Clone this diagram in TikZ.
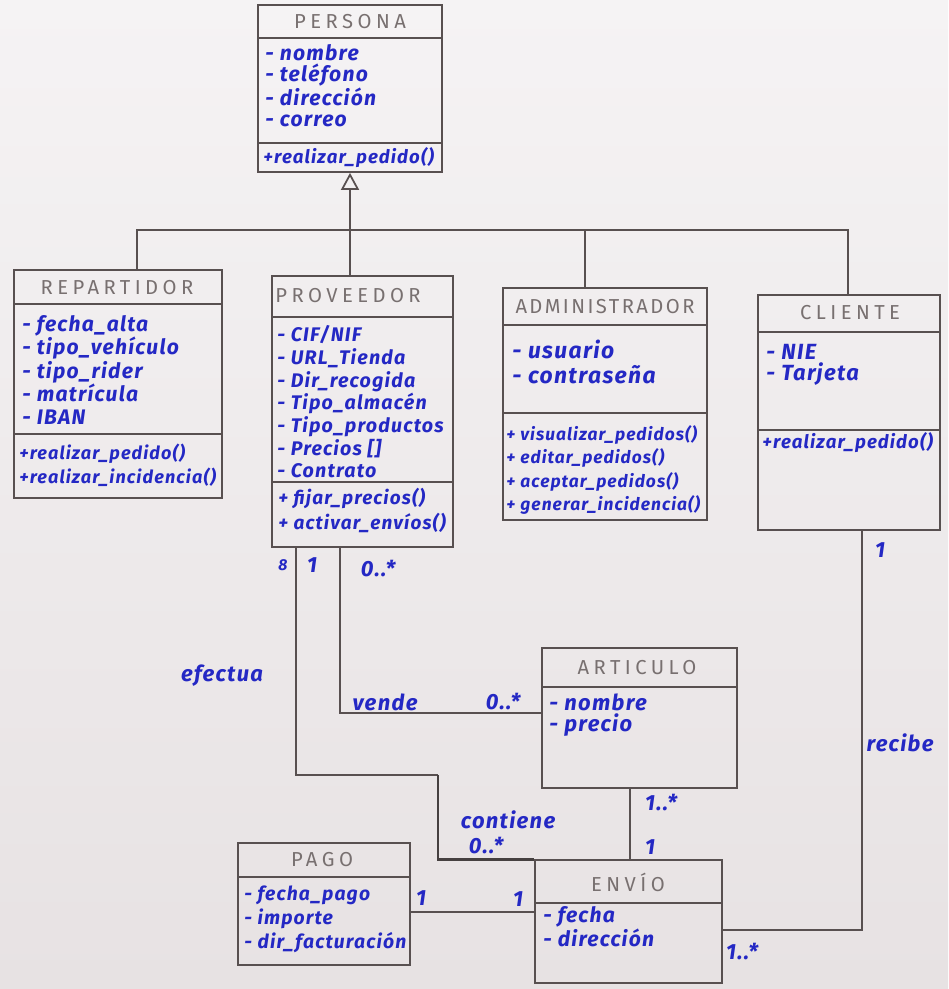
\documentclass[tikz,border=0pt]{standalone}
\usepackage{fontspec}
\setmainfont{Fira Sans}
\usetikzlibrary{arrows.meta,fit,calc}

\definecolor{ink}{RGB}{36,40,196}
\definecolor{pencil}{RGB}{88,80,80}
\definecolor{graphite}{RGB}{120,112,112}
\definecolor{paperTop}{RGB}{245,243,244}
\definecolor{paperBot}{RGB}{231,226,227}

% handwriting-like text: size and line spacing
\newcommand{\handtext}[2]{\fontsize{#1}{#2}\selectfont\bfseries\itshape\addfontfeature{LetterSpace=6}}
\newcommand{\titletext}[1]{\fontsize{11.5pt}{13pt}\selectfont\addfontfeature{LetterSpace=#1}}

\begin{document}
\begin{tikzpicture}[x=0.02cm, y=-0.02cm,
  classbox/.style={draw=pencil, line width=1pt, inner sep=0pt},
  line/.style={draw=pencil, line width=1pt},
  heavy/.style={draw=pencil!80!black, line width=1.6pt},
  title/.style={font={\titletext{22}}, text=graphite, inner sep=0pt},
  members/.style={align=left, anchor=west, inner sep=0pt, text=ink},
  label/.style={font={\handtext{12.5pt}{13pt}}, text=ink, inner sep=0pt}]

% paper
\useasboundingbox (0,0) rectangle (948,989);
\shade[top color=paperTop, bottom color=paperBot] (0,0) rectangle (948,989);

% ---------- PERSONA ----------
\node[classbox, fit={(258,5) (442,172)}] (persona) {};
\draw[line] (258,38) -- (442,38);
\draw[line] (258,143) -- (442,143);
\node[title] (persona-t) at (350,22) {PERSONA};
\node[members, font={\handtext{12pt}{12pt}}] (persona-a) at (265,86)
  {- nombre\\- teléfono\\- dirección\\- correo};
\node[members, font={\handtext{10.6pt}{12pt}}] (persona-m) at (263,158)
  {+realizar\_pedido()};

% ---------- REPARTIDOR ----------
\node[classbox, fit={(14,270) (222,498)}] (repartidor) {};
\draw[line] (14,304) -- (222,304);
\draw[line] (14,434) -- (222,434);
\node[title] (repartidor-t) at (117,288) {REPARTIDOR};
\node[members, font={\handtext{12pt}{13.2pt}}] (repartidor-a) at (22,370)
  {- fecha\_alta\\- tipo\_vehículo\\- tipo\_rider\\- matrícula\\- IBAN};
\node[members, font={\handtext{10.3pt}{13.6pt}}] (repartidor-m) at (19,465)
  {+realizar\_pedido()\\+realizar\_incidencia()};

% ---------- PROVEEDOR ----------
\node[classbox, fit={(272,276) (453,547)}] (proveedor) {};
\draw[line] (272,317) -- (453,317);
\draw[line] (272,482) -- (453,482);
\node[title] (proveedor-t) at (348,296) {PROVEEDOR};
\node[members, font={\handtext{11.2pt}{12.9pt}}] (proveedor-a) at (277,402)
  {- CIF/NIF\\- URL\_Tienda\\- Dir\_recogida\\- Tipo\_almacén\\- Tipo\_productos\\- Precios []\\- Contrato};
\node[members, font={\handtext{10.8pt}{14.2pt}}] (proveedor-m) at (278,510)
  {+ fijar\_precios()\\+ activar\_envíos()};

% ---------- ADMINISTRADOR ----------
\node[classbox, fit={(503,288) (707,520)}] (admin) {};
\draw[line] (503,325) -- (707,325);
\draw[line] (503,413) -- (707,413);
\node[title, font={\titletext{12}}] (admin-t) at (605,307) {ADMINISTRADOR};
\node[members, font={\handtext{13pt}{14.2pt}}] (admin-a) at (512,362)
  {- usuario\\- contraseña};
\node[members, font={\handtext{9.9pt}{13.3pt}}] (admin-m) at (506,470)
  {+ visualizar\_pedidos()\\+ editar\_pedidos()\\+ aceptar\_pedidos()\\+ generar\_incidencia()};

% ---------- CLIENTE ----------
\node[classbox, fit={(758,295) (940,530)}] (cliente) {};
\draw[line] (758,332) -- (940,332);
\draw[line] (758,430) -- (940,430);
\node[title] (cliente-t) at (850,313) {CLIENTE};
\node[members, font={\handtext{12.5pt}{11.6pt}}] (cliente-a) at (766,365)
  {- NIE\\- Tarjeta};
\node[members, font={\handtext{10.6pt}{12pt}}] (cliente-m) at (762,443)
  {+realizar\_pedido()};

% ---------- ARTICULO ----------
\node[classbox, fit={(542,648) (737,788)}] (articulo) {};
\draw[line] (542,687) -- (737,687);
\node[title] (articulo-t) at (637,668) {ARTICULO};
\node[members, font={\handtext{12.5pt}{11.6pt}}] (articulo-a) at (549,715)
  {- nombre\\- precio};

% ---------- PAGO ----------
\node[classbox, fit={(238,843) (410,965)}] (pago) {};
\draw[line] (238,877) -- (410,877);
\node[title] (pago-t) at (322,860) {PAGO};
\node[members, font={\handtext{11pt}{13.7pt}}] (pago-a) at (244,919)
  {- fecha\_pago\\- importe\\- dir\_facturación};

% ---------- ENVIO ----------
\node[classbox, fit={(535,860) (722,983)}] (envio) {};
\draw[line] (535,903) -- (722,903);
\node[title] (envio-t) at (628,882) {ENVÍO};
\node[members, font={\handtext{12pt}{11.6pt}}] (envio-a) at (543,927)
  {- fecha\\- dirección};

% ---------- generalisation ----------
\coordinate (barL) at (137,230);
\coordinate (barA) at (585,230);
\coordinate (barR) at (848,230);
\draw[line, -{Triangle[open, length=0.34cm, width=0.36cm]}]
  (persona.south |- proveedor.north) -- (persona.south);
\draw[line] (barL |- repartidor.north) -- (barL) -- (barR) -- (barR |- cliente.north);
\draw[line] (barA) -- (barA |- admin.north);

% ---------- efectua: PROVEEDOR -- ENVIO ----------
\coordinate (ef1) at (296,775);
\coordinate (ef2) at (438,775);
\draw[line] (ef1 |- proveedor.south) -- (ef1) -- (ef2);
\draw[heavy] (ef2) -- (ef2 |- envio.north) -- (envio.north west);
\node[label, font={\handtext{9pt}{10pt}}] (ef-x) at (283,565) {8};
\node[label] (ef-m1) at (312,565) {1};
\node[label] (ef-name) at (222,676) {efectua};
\node[label] (ef-m2) at (486,846) {0..*};

% ---------- vende: PROVEEDOR -- ARTICULO ----------
\coordinate (vd) at (340,713);
\draw[line] (vd |- proveedor.south) -- (vd) -- (vd -| articulo.west);
\node[label] (vd-m1) at (378,569) {0..*};
\node[label] (vd-name) at (385,702) {vende};
\node[label] (vd-m2) at (503,702) {0..*};

% ---------- contiene: ARTICULO -- ENVIO ----------
\coordinate (ct) at (630,820);
\draw[line] (ct |- articulo.south) -- (ct |- envio.north);
\node[label] (ct-m1) at (661,803) {1..*};
\node[label] (ct-m2) at (650,847) {1};
\node[label] (ct-name) at (508,820) {contiene};

% ---------- PAGO -- ENVIO ----------
\coordinate (pe) at (470,912);
\draw[line] (pe -| pago.east) -- (pe -| envio.west);
\node[label] (pe-m1) at (421,898) {1};
\node[label] (pe-m2) at (518,899) {1};

% ---------- recibe: CLIENTE -- ENVIO ----------
\coordinate (rc) at (862,930);
\draw[line] (rc |- cliente.south) -- (rc) -- (rc -| envio.east);
\node[label] (rc-m1) at (880,550) {1};
\node[label] (rc-name) at (900,743) {recibe};
\node[label] (rc-m2) at (742,952) {1..*};

\end{tikzpicture}
\end{document}
